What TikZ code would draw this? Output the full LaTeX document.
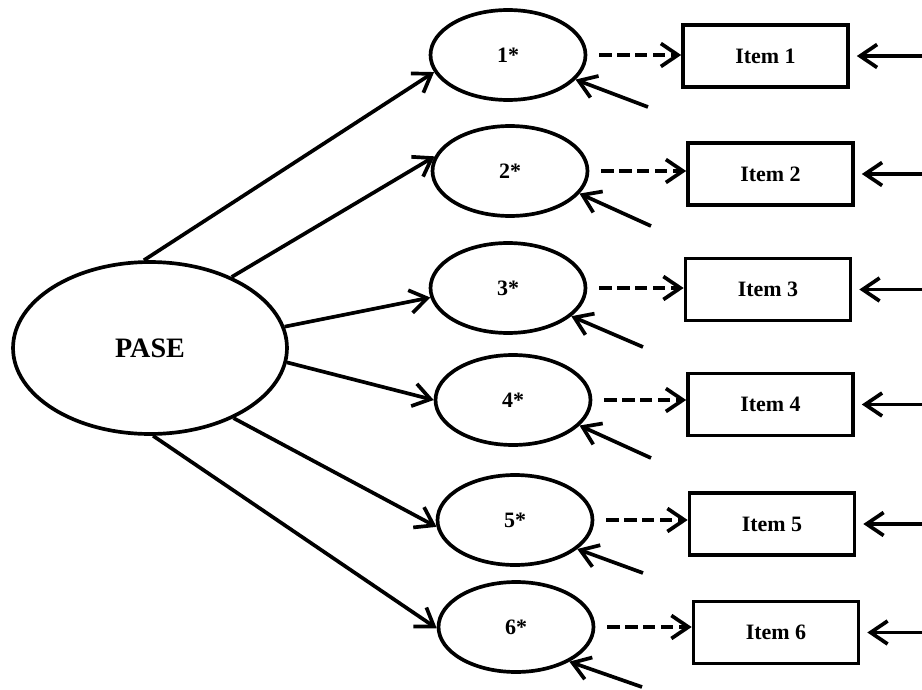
\documentclass[tikz,border=0pt]{standalone}
\usepackage{fontspec}
\setmainfont{Liberation Serif}
\usetikzlibrary{arrows.meta,shapes.geometric,calc}
\begin{document}
\begin{tikzpicture}[x=0.02cm,y=-0.02cm,
  lw/.style={line width=2.1pt},
  lat/.style={ellipse,draw,lw,minimum width=3.1cm,minimum height=1.8cm,inner sep=0pt,font=\bfseries\fontsize{12.5}{14}\selectfont},
  itembox/.style={rectangle,draw,lw,minimum width=3.3cm,minimum height=1.24cm,inner sep=0pt,font=\bfseries\fontsize{12.5}{14}\selectfont},
  arr/.style={lw,-{Straight Barb[length=0.34cm,width=0.46cm,line width=2.1pt]}},
  dasharr/.style={arr,dash pattern=on 7pt off 3.2pt}]
\useasboundingbox (0,0) rectangle (922,689);
\node[ellipse,draw,lw,minimum width=5.48cm,minimum height=3.44cm,inner sep=0pt,font=\bfseries\fontsize{16}{18}\selectfont] (pase) at (150,348) {PASE};
\node[lat] (e1) at (508,55) {1*};
\node[lat] (e2) at (510,171) {2*};
\node[lat] (e3) at (508,288) {3*};
\node[lat] (e4) at (513,400) {4*};
\node[lat] (e5) at (515,520) {5*};
\node[lat] (e6) at (516,627) {6*};
\node[itembox] (i1) at (765.5,56) {Item 1};
\node[itembox] (i2) at (770.5,174) {Item 2};
\node[itembox] (i3) at (768,289.5) {Item 3};
\node[itembox] (i4) at (770.5,404.5) {Item 4};
\node[itembox] (i5) at (772,524) {Item 5};
\node[itembox] (i6) at (776,632.5) {Item 6};
% loadings
\draw[arr] (pase.94.6) -- (e1.193.7);
\draw[arr] (pase.41.2) -- (e2.169.9);
\draw[arr] (pase.9.1) -- (e3.187.3);
\draw[arr] (pase.-6.2) -- (e4.180);
\draw[arr] (pase.-40.2) -- (e5.185);
\draw[arr] (pase.-88) -- (e6.181);
% dashed
\foreach \k in {1,...,6}{
  \draw[dasharr] ([xshift=0.24cm]e\k.east) -- (e\k.east -| i\k.west);
}
% right error arrows
\foreach \k in {1,...,6}{
  \coordinate (r\k) at (i\k.east -| 922,0);
  \draw[arr] (r\k) -- ([xshift=0.14cm]i\k.east);
}
% latent error arrows
\coordinate (t1) at (648,107);
\coordinate (t2) at (651,226);
\coordinate (t3) at (643,347);
\coordinate (t4) at (651,458);
\coordinate (t5) at (643,573);
\coordinate (t6) at (642,687);
\draw[arr] (t1) -- (e1.-20.6);
\draw[arr] (t2) -- (e2.-18.4);
\draw[arr] (t3) -- (e3.-24.9);
\draw[arr] (t4) -- (e4.-21.4);
\draw[arr] (t5) -- (e5.-25);
\draw[arr] (t6) -- (e6.-33.7);
\end{tikzpicture}
\end{document}
